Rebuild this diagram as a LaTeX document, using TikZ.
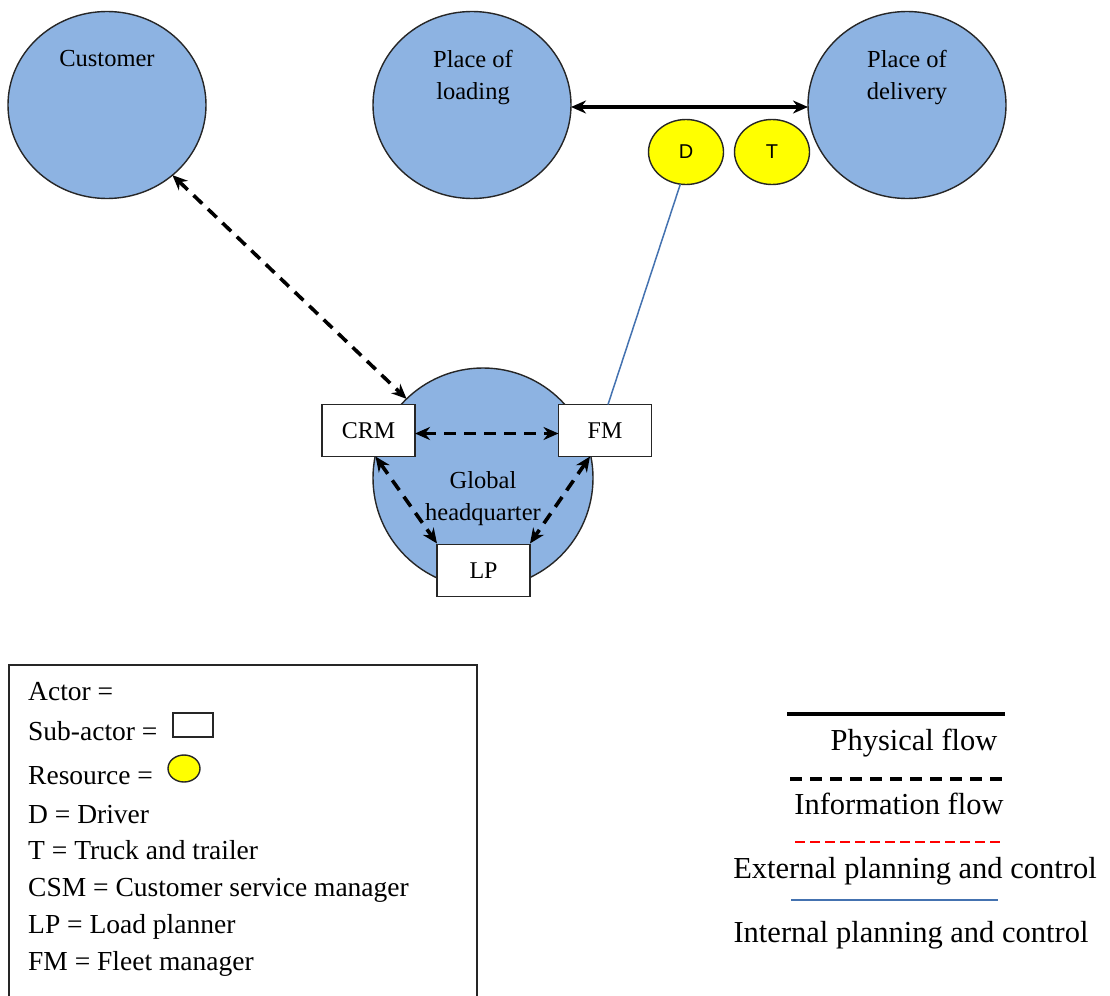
\documentclass[tikz,border=0pt]{standalone}
\usepackage{fontspec}
\setmainfont{Liberation Serif}
\newfontfamily\sansf{Liberation Sans}
\usetikzlibrary{shapes.geometric,arrows.meta}

\definecolor{actorblue}{RGB}{141,179,226}
\definecolor{planblue}{RGB}{68,114,176}
\definecolor{resyellow}{RGB}{255,255,0}

\tikzset{
  actor/.style={ellipse,draw=black!85,line width=1.4pt,fill=actorblue,inner sep=0pt,outer sep=0pt},
  subactor/.style={rectangle,draw=black!85,line width=1.5pt,fill=white,minimum width=93pt,minimum height=52pt,inner sep=0pt,outer sep=0pt,font=\fontsize{24}{28}\selectfont},
  resource/.style={ellipse,draw=black!85,line width=1.4pt,fill=resyellow,minimum width=75pt,minimum height=65pt,inner sep=0pt,outer sep=0pt,font=\sansf\fontsize{20}{24}\selectfont},
  lbl/.style={inner sep=0pt,font=\fontsize{24.5}{28}\selectfont,anchor=base},
  legtext/.style={inner sep=0pt,font=\fontsize{27.5}{32}\selectfont,anchor=base west},
  flowtext/.style={inner sep=0pt,font=\fontsize{30.5}{34}\selectfont,anchor=base},
  bigtip/.tip={Stealth[length=15pt,width=13pt]},
  physflow/.style={line width=3.6pt,bigtip-bigtip},
  infoflow/.style={line width=3.6pt,dash pattern=on 12pt off 8pt,bigtip-bigtip},
  intflow/.style={line width=1.5pt,draw=planblue},
  extflow/.style={line width=1.5pt,draw=red,dash pattern=on 10pt off 5pt}
}

\begin{document}
\begin{tikzpicture}[x=1pt,y=-1pt]
\useasboundingbox[fill=white] (0,0) rectangle (1110,995);

% actors
\node[actor,minimum width=198pt,minimum height=187pt] (cust) at (107,105) {};
\node[actor,minimum width=198pt,minimum height=187pt] (load) at (472,105) {};
\node[actor,minimum width=198pt,minimum height=187pt] (deliv) at (907,105) {};
\node[actor,minimum width=220pt,minimum height=220pt] (hq) at (483,478) {};

\node[lbl] (custlbl) at (107,67) {Customer};
\node[lbl] (loadlbl1) at (473,68) {Place of};
\node[lbl] (loadlbl2) at (473,100) {loading};
\node[lbl] (delivlbl1) at (907,68) {Place of};
\node[lbl] (delivlbl2) at (907,100) {delivery};
\node[lbl] (hqlbl1) at (483,488) {Global};
\node[lbl] (hqlbl2) at (483,520) {headquarter};

% resources
\node[resource] (drv) at (686,152) {D};
\node[resource] (trk) at (772,152) {T};

% sub-actors
\node[subactor] (crm) at (368.5,430.5) {CRM};
\node[subactor] (fm) at (605,430.5) {FM};
\node[subactor] (lp) at (483.5,570.5) {LP};

% flows
\draw[physflow] ([yshift=-2pt]load.east) -- ([yshift=-2pt]deliv.west);
\draw[infoflow] (cust.-47) -- (hq.134);
\draw[infoflow] ([yshift=-3pt]crm.east) -- ([yshift=-3pt]fm.west);
\draw[infoflow] ([xshift=7pt]crm.south) -- ([yshift=1pt]lp.north west);
\draw[infoflow] ([xshift=-15pt]fm.south) -- ([yshift=1pt]lp.north east);
\draw[intflow] (drv.-100) -- ([xshift=3pt]fm.north);

% legend: symbols and abbreviations
\draw[line width=1.5pt,draw=black!85] (9,665) rectangle (477,1010);
\node[legtext] (lgactor) at (28,700) {Actor =};
\node[legtext] (lgsub) at (28,740) {Sub-actor =};
\draw[line width=1.5pt,draw=black!85,fill=white] (173,713) rectangle (213,737);
\node[legtext] (lgres) at (28,784) {Resource =};
\draw[line width=1.4pt,draw=black!85,fill=resyellow] (184,768.5) ellipse [x radius=16pt,y radius=13.5pt];
\node[legtext] (lgd) at (28,823) {D = Driver};
\node[legtext] (lgt) at (28,859) {T = Truck and trailer};
\node[legtext] (lgcsm) at (28,896) {CSM = Customer service manager};
\node[legtext] (lglp) at (28,933) {LP = Load planner};
\node[legtext] (lgfm) at (28,970) {FM = Fleet manager};

% legend: flow types
\coordinate (ps) at (787,714);  \coordinate (pe) at (1005,714);
\draw[line width=3.6pt] (ps) -- (pe);
\node[flowtext] (ptext) at (914,750) {Physical flow};
\coordinate (is) at (790,779);  \coordinate (ie) at (1007,779);
\draw[line width=3.6pt,dash pattern=on 12pt off 8pt] (is) -- (ie);
\node[flowtext] (itext) at (899,814) {Information flow};
\coordinate (es) at (795,842);  \coordinate (ee) at (1003,842);
\draw[extflow] (es) -- (ee);
\node[flowtext] (etext) at (915,878) {External planning and control};
\coordinate (ns) at (791,900);  \coordinate (ne) at (998,900);
\draw[intflow] (ns) -- (ne);
\node[flowtext] (ntext) at (911,942) {Internal planning and control};
\end{tikzpicture}
\end{document}
